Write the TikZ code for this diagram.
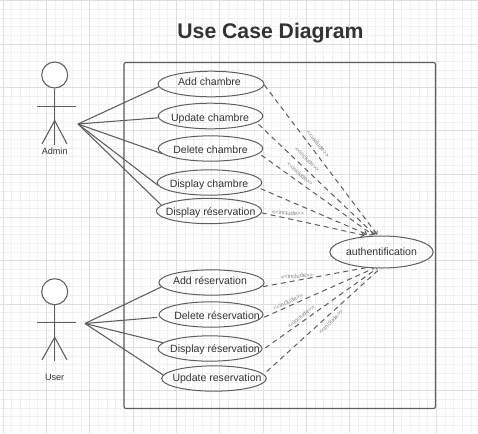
\documentclass[tikz,border=0pt]{standalone}
\usepackage{fontspec}
\setmainfont{Liberation Sans}
\usetikzlibrary{shapes.geometric,arrows.meta}
\definecolor{ink}{HTML}{5E5E5E}
\definecolor{txt}{HTML}{333333}
\definecolor{gmin}{HTML}{F0F0F0}
\definecolor{gmaj}{HTML}{DEDEDE}
\newcommand\ct[3]{\smash{\makebox[0pt][c]{\hspace{#1pt}\raisebox{\dimexpr #2pt-2.9pt\relax}{#3}}}}
\newcommand\inctext{{<}{<}include{>}{>}}
\tikzset{
  usecase/.style={draw=ink,line width=0.75pt,ellipse,inner sep=0pt,text=txt,font=\fontsize{7.9}{9}\selectfont,text height=0pt,text depth=0pt},
  assoc/.style={draw=ink,line width=0.8pt},
  incl/.style={draw=ink,line width=0.75pt,dash pattern=on 3.8pt off 3pt,-{To[length=2.5pt,width=4pt]}},
  inclabel/.style={text=gray,font=\fontsize{4.4}{5}\selectfont,inner sep=0pt},
  limb/.style={draw=ink,line width=0.8pt},
  actorname/.style={text=txt,font=\fontsize{6.8}{8}\selectfont,inner sep=0pt},
}
\begin{document}
\begin{tikzpicture}[x=0.75pt,y=-0.75pt]
\useasboundingbox (0,0) rectangle (478,433);
\fill[white] (0,0) rectangle (478,433);
% grid
\foreach \k in {0,...,55} {\draw[gmin,line width=0.5pt] ({3+8.667*\k},0) -- ({3+8.667*\k},433);}
\foreach \k in {0,...,50} {\draw[gmin,line width=0.5pt] (0,{0.7+8.667*\k}) -- (478,{0.7+8.667*\k});}
\foreach \k in {0,...,11} {\draw[gmaj,line width=0.7pt] ({3+43.33*\k},0) -- ({3+43.33*\k},433);}
\foreach \k in {0,...,10} {\draw[gmaj,line width=0.7pt] (0,{0.7+43.33*\k}) -- (478,{0.7+43.33*\k});}
\node[text=txt,font=\fontsize{15.9}{18}\selectfont\bfseries,inner sep=0pt] (title) at (270.5,33.5) {Use Case Diagram};
\draw[ink,line width=0.9pt,rounded corners=1.5pt] (124,62.5) rectangle (435.5,408.5);
% Admin
\node[draw=ink,fill=white,circle,line width=0.8pt,minimum size=19.5pt,inner sep=0pt] (headA) at (54.7,75) {};
\coordinate (hipA) at (54.7,120.5);
\coordinate (footA) at (54.7,144.5);
\coordinate (lfA) at (42,144);
\coordinate (rfA) at (67,144);
\coordinate (laA) at (37,106.5);
\coordinate (raA) at (76,106.5);
\draw[limb] (headA) -- (footA);
\draw[limb] (laA) -- (raA);
\draw[limb] (lfA) -- (hipA) -- (rfA);
\node[actorname] (nameA) at (54.7,151) {Admin};
\coordinate (hubA) at (78,124);
% User
\node[draw=ink,fill=white,circle,line width=0.8pt,minimum size=19.5pt,inner sep=0pt] (headU) at (54.7,291.7) {};
\coordinate (hipU) at (54.7,337.3);
\coordinate (footU) at (54.7,360.7);
\coordinate (lfU) at (42,360);
\coordinate (rfU) at (67,360);
\coordinate (laU) at (37,322.7);
\coordinate (raU) at (76,322.7);
\draw[limb] (headU) -- (footU);
\draw[limb] (laU) -- (raU);
\draw[limb] (lfU) -- (hipU) -- (rfU);
\node[actorname] (nameU) at (54.7,377) {User};
\coordinate (hubU) at (85,323.5);
% use cases
\node[usecase,minimum width=79.5pt,minimum height=19.2pt] (c1) at (211,84) {\ct{-2.25}{1.5}{Add chambre}};
\node[usecase,minimum width=78.5pt,minimum height=19.2pt] (c2) at (210.5,116) {\ct{-0.75}{-1}{Update chambre}};
\node[usecase,minimum width=78.5pt,minimum height=19pt] (c3) at (210.5,148.5) {\ct{0}{-1.1}{Delete chambre}};
\node[usecase,minimum width=78.5pt,minimum height=19pt] (c4) at (209.5,182.5) {\ct{-0.75}{-1.1}{Display chambre}};
\node[usecase,minimum width=79pt,minimum height=19pt] (c5) at (209,211) {\ct{2.5}{-0.75}{Display réservation}};
\node[usecase,minimum width=77.5pt,minimum height=24pt] (auth) at (381.5,252) {\ct{0}{0.2}{authentification}};
\node[usecase,minimum width=79pt,minimum height=19pt] (r1) at (211.5,282.5) {\ct{-2.25}{1.1}{Add réservation}};
\node[usecase,minimum width=78pt,minimum height=19pt] (r2) at (211,314.5) {\ct{9}{-1.1}{Delete réservation}};
\node[usecase,minimum width=78pt,minimum height=19pt] (r3) at (210,348.5) {\ct{7.5}{0}{Display réservation}};
\node[usecase,minimum width=78.5pt,minimum height=19pt] (r4) at (214,378.5) {\ct{4.5}{0.9}{Update reservation}};
% associations
\draw[assoc] (hubA) -- (c1.183);
\draw[assoc] (hubA) -- (c2.182);
\draw[assoc] (hubA) -- (c3.186);
\draw[assoc] (hubA) -- (c4.183);
\draw[assoc] (hubA) -- (c5.173);
\draw[assoc] (hubU) -- (r1.185);
\draw[assoc,shorten >=2pt] (hubU) -- (r2.183);
\draw[assoc] (hubU) -- (r3.173);
\draw[assoc] (hubU) -- (r4.176);
% includes
\draw[incl,shorten >=1pt] (c1.-1) -- (auth.102);
\draw[incl,shorten >=1pt,shorten <=2pt] (c2.-8) -- (auth.110);
\draw[incl,shorten >=1pt,shorten <=2pt] (c3.-6) -- (auth.115);
\draw[incl,shorten >=3pt,shorten <=2pt] (c4.-6) -- (auth.124);
\draw[incl,shorten >=3pt] (c5.-2) -- (auth.130);
\draw[incl,-,shorten <=1pt] (r1.-5) -- (auth.-135);
\draw[incl,-,shorten <=3pt] (r2.-5) -- (auth.-115);
\draw[incl,-,shorten <=3pt] (r3.-2) -- (auth.-105);
\draw[incl,-,shorten <=3pt] (r4.5) -- (auth.-95);
% labels
\node[inclabel,rotate=-50] (l1) at (318,144) {\inctext};
\node[inclabel,rotate=-45] (l2) at (307,159) {\inctext};
\node[inclabel,rotate=-41] (l3) at (300,174) {\inctext};
\node[inclabel,rotate=-2] (l4) at (288,213) {\inctext};
\node[inclabel,rotate=4] (l5) at (297,276) {\inctext};
\node[inclabel,rotate=25] (l6) at (288,302) {\inctext};
\node[inclabel,rotate=38] (l7) at (301,317) {\inctext};
\node[inclabel,rotate=45] (l8) at (331,322) {\inctext};
\end{tikzpicture}
\end{document}
